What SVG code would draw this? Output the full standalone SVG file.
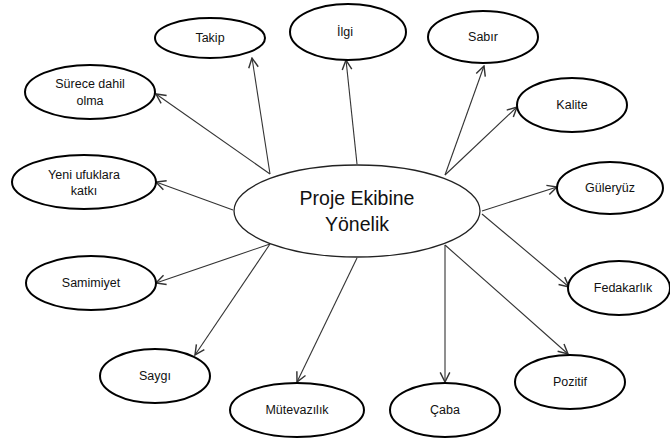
<svg xmlns="http://www.w3.org/2000/svg" width="670" height="439" viewBox="0 0 670 439">
<style>
.n{fill:#fff;stroke:#000;stroke-width:2}
.c{fill:#fff;stroke:#222;stroke-width:1.3}
.t{font-family:"Liberation Sans",Arial,sans-serif;font-size:12.5px;fill:#111;text-anchor:middle}
.big{font-family:"Liberation Sans",Arial,sans-serif;font-size:19.5px;fill:#111;text-anchor:middle}
.e line{stroke:#333;stroke-width:1.1;marker-end:url(#a)}
</style>
<defs>
<marker id="a" markerUnits="userSpaceOnUse" markerWidth="12" markerHeight="12" viewBox="0 0 10 10" refX="9" refY="5" orient="auto">
<path d="M1,1 L9,5 L1,9" fill="none" stroke="#333" stroke-width="1.2"/>
</marker>
</defs>
<rect width="670" height="439" fill="#fff"/>
<g id="connectors" class="e">
<line x1="270" y1="174" x2="252" y2="58"/>
<line x1="270" y1="174" x2="156" y2="94"/>
<line x1="357" y1="164" x2="346" y2="60"/>
<line x1="445" y1="175" x2="484" y2="66"/>
<line x1="445" y1="175" x2="517" y2="107"/>
<line x1="233" y1="210" x2="156" y2="182"/>
<line x1="270" y1="244" x2="156" y2="283"/>
<line x1="270" y1="244" x2="195" y2="355"/>
<line x1="357" y1="258" x2="297" y2="382"/>
<line x1="445" y1="245" x2="445" y2="382"/>
<line x1="445" y1="245" x2="568" y2="354"/>
<line x1="482" y1="211" x2="557" y2="187"/>
<line x1="482" y1="214" x2="569" y2="287"/>
</g>
<g id="center"><ellipse class="c" cx="357" cy="211" rx="123" ry="46"/><text class="big" x="357" y="205">Proje Ekibine</text><text class="big" x="357" y="231">Yönelik</text></g>
<g id="takip"><ellipse class="n" cx="210" cy="38" rx="55" ry="20"/><text class="t" x="210" y="42">Takip</text></g>
<g id="surece"><ellipse class="n" cx="90" cy="92" rx="65" ry="27"/><text class="t" x="90" y="88">Sürece dahil</text><text class="t" x="90" y="105">olma</text></g>
<g id="ilgi"><ellipse class="n" cx="348" cy="32" rx="58" ry="28"/><text class="t" x="345" y="36">İlgi</text></g>
<g id="sabir"><ellipse class="n" cx="483" cy="37" rx="55" ry="26"/><text class="t" x="483" y="41">Sabır</text></g>
<g id="kalite"><ellipse class="n" cx="572" cy="105" rx="55" ry="27"/><text class="t" x="572" y="109">Kalite</text></g>
<g id="yeni"><ellipse class="n" cx="84" cy="182" rx="72" ry="27"/><text class="t" x="84" y="179">Yeni ufuklara</text><text class="t" x="84" y="195">katkı</text></g>
<g id="samimiyet"><ellipse class="n" cx="91" cy="283" rx="65" ry="27"/><text class="t" x="91" y="287">Samimiyet</text></g>
<g id="guleryuz"><ellipse class="n" cx="610" cy="188" rx="53" ry="26"/><text class="t" x="610" y="192">Güleryüz</text></g>
<g id="fedakarlik"><ellipse class="n" cx="619" cy="288" rx="51" ry="27"/><text class="t" x="623" y="292">Fedakarlık</text></g>
<g id="saygi"><ellipse class="n" cx="155" cy="376" rx="55" ry="27"/><text class="t" x="155" y="380">Saygı</text></g>
<g id="mutevazilik"><ellipse class="n" cx="297" cy="410" rx="67" ry="27"/><text class="t" x="297" y="414">Mütevazılık</text></g>
<g id="caba"><ellipse class="n" cx="445" cy="410" rx="55" ry="27"/><text class="t" x="445" y="414">Çaba</text></g>
<g id="pozitif"><ellipse class="n" cx="570" cy="382" rx="55" ry="27"/><text class="t" x="570" y="386">Pozitif</text></g>
</svg>
